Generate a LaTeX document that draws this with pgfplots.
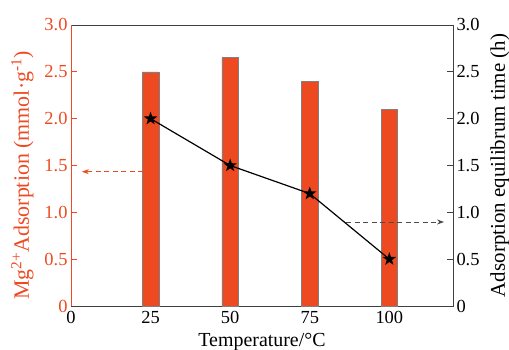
\documentclass[border=0pt]{standalone}
\usepackage{pgfplots}
\pgfplotsset{compat=1.18}
\usepackage{fontspec}
\setmainfont{Liberation Serif}
\newfontfamily\tickfont{Liberation Serif}
\usetikzlibrary{arrows.meta,shapes.geometric}
\definecolor{orng}{HTML}{EE4A22}
\pgfdeclareplotmark{fstar}{\node[star, star points=5, star point ratio=2.5, fill=black, draw=none, inner sep=0pt, minimum size=14bp] {};}
\newcommand{\ytl}{\ifdim\tick pt=0pt 0\else\pgfmathprintnumber[fixed,fixed zerofill,precision=1]{\tick}\fi}
\begin{document}
\begin{tikzpicture}
\pgfplotsset{every axis/.append style={
  scale only axis, width=382bp, height=281bp,
  at={(0,0)}, anchor=south west,
  xmin=0, xmax=120, ymin=0, ymax=3,
  /pgf/number format/assume math mode=true,
  tick label style={font=\tickfont\fontsize{18.5}{20}\selectfont},
  label style={font=\rmfamily\fontsize{22}{24}\selectfont},
  tick align=inside, major tick length=6bp,
  ytick={0,0.5,1,1.5,2,2.5,3},
  yticklabel={{\tickfont\ytl}},
  clip=false,
}}
\begin{axis}[
  xtick={0,25,50,75,100}, xtick pos=bottom, ytick pos=left,
  xticklabel style={yshift=-2bp},
  yticklabel style={text=orng}, ytick style={draw=orng, line width=0.9pt},
  xtick style={draw=black!75, line width=0.9pt},
  ylabel={Mg\textsuperscript{2+}Adsorption (mmol·g\textsuperscript{-1})},
  ylabel style={text=orng, yshift=4bp, xshift=-10bp},
  xlabel={Temperature/°C},
  xlabel style={yshift=-2bp, font=\rmfamily\fontsize{20}{22}\selectfont},
  axis line style={draw=black!75, line width=0.9pt},
]
\addplot[ybar, bar width=5.2, fill=orng, draw=gray, line width=0.6pt] coordinates {(25,2.5) (50,2.65) (75,2.4) (100,2.1)};
\draw[orng, line width=1pt] (rel axis cs:0,0) -- (rel axis cs:0,1);
\draw[orng, line width=0.9pt, dash pattern=on 5bp off 3.5bp, -{Stealth[length=7bp,width=5bp]}] (axis cs:22.7,1.434) -- (axis cs:3.4,1.434);
\draw[black!70, line width=0.9pt, dash pattern=on 5bp off 3.5bp, -{Stealth[length=7bp,width=5bp]}] (axis cs:86.4,0.897) -- (axis cs:117.2,0.897);
\end{axis}
\begin{axis}[
  axis y line*=right, axis x line=none,
  ylabel={Adsorption equilibrum time (h)},
  ylabel style={yshift=-4bp, font=\rmfamily\fontsize{21}{23}\selectfont},
  ytick style={draw=black!75, line width=0.9pt},
  axis line style={draw=black!75, line width=0.9pt},
]
\addplot[black, line width=1.2pt, mark=fstar] coordinates {(25,2.0) (50,1.5) (75,1.2) (100,0.5)};
\end{axis}
\pgfresetboundingbox
\path[use as bounding box] (-71bp,-44bp) rectangle (438bp,306bp);
\end{tikzpicture}
\end{document}
